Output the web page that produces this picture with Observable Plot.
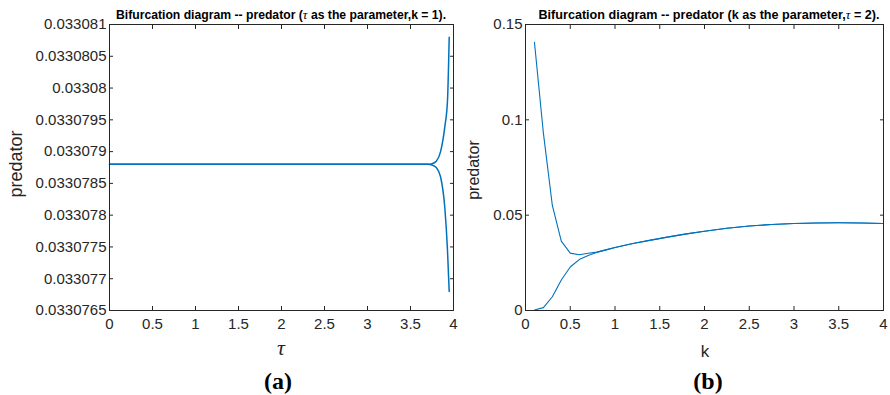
<!DOCTYPE html>
<html><head><meta charset="utf-8">
<script src="https://cdn.jsdelivr.net/npm/d3@7"></script>
<script src="https://cdn.jsdelivr.net/npm/@observablehq/plot@0.6"></script>
<style>
body{margin:0;background:#fff;}
#wrap{position:relative;width:890px;height:395px;overflow:hidden;font-family:"Liberation Sans",Arial,sans-serif;background:#fff;}
.p{position:absolute;top:0;}
.lbl{position:absolute;white-space:nowrap;transform:translate(-50%,-50%);color:#262626;line-height:1;}
.rot{transform:translate(-50%,-50%) rotate(-90deg);}
.ttl{font-weight:bold;font-size:12.2px;color:#000;}
.cap{font-family:"Liberation Serif","Times New Roman",serif;font-weight:bold;font-size:24px;color:#000;}
</style></head>
<body><div id="wrap">
<div id="pa" class="p" style="left:0"></div>
<div id="pb" class="p" style="left:460px"></div>
<div class="lbl ttl" style="left:281px;top:15px">Bifurcation diagram -- predator (<i style="font-family:'Liberation Serif',serif;font-weight:normal;font-size:13px">τ</i> as the parameter,k = 1).</div>
<div class="lbl ttl" style="left:709px;top:15px;font-size:12.6px">Bifurcation diagram -- predator (k as the parameter,<i style="font-family:'Liberation Serif',serif;font-weight:normal;font-size:13px">τ</i> = 2).</div>
<div class="lbl rot" style="left:16px;top:164px;font-size:18px">predator</div>
<div class="lbl rot" style="left:474px;top:170px;font-size:16px">predator</div>
<div class="lbl" style="left:281px;top:348px;font-size:22px;font-style:italic;font-family:'Liberation Serif',serif">τ</div>
<div class="lbl" style="left:705px;top:351px;font-size:17px">k</div>
<div class="lbl cap" style="left:278px;top:381px">(a)</div>
<div class="lbl cap" style="left:708px;top:381px">(b)</div>
</div>
<script>
// Panel (a): tau as the parameter, k = 1
const tauA   = [0, 0.5, 1, 1.5, 2, 2.5, 3, 3.5, 3.7, 3.75, 3.8, 3.85, 3.9, 3.93, 3.95];
const upperA = [0.0330788, 0.0330788, 0.0330788, 0.0330788, 0.0330788, 0.0330788, 0.0330788, 0.0330788, 0.0330788, 0.03307881, 0.03307885, 0.0330790, 0.0330794, 0.0330798, 0.0330808];
const lowerA = [0.0330788, 0.0330788, 0.0330788, 0.0330788, 0.0330788, 0.0330788, 0.0330788, 0.0330788, 0.0330788, 0.03307879, 0.03307875, 0.0330786, 0.0330781, 0.03307745, 0.0330768];
const xTicksA = [0, 0.5, 1, 1.5, 2, 2.5, 3, 3.5, 4];
const yTicksA = [0.0330765, 0.033077, 0.0330775, 0.033078, 0.0330785, 0.033079, 0.0330795, 0.03308, 0.0330805, 0.033081];

// Panel (b): k as the parameter, tau = 2
const kB     = [0.1, 0.2, 0.3, 0.4, 0.5, 0.6, 0.7, 0.8, 0.9, 1.0, 1.2, 1.4, 1.6, 1.8, 2.0, 2.25, 2.5, 2.75, 3.0, 3.25, 3.5, 3.75, 4.0];
const upperB = [0.1407, 0.093, 0.0551, 0.0364, 0.0301, 0.0292, 0.0300, 0.0306, 0.0318, 0.0330, 0.0351, 0.0369, 0.0386, 0.0402, 0.0416, 0.0431, 0.0443, 0.0451, 0.0456, 0.0459, 0.0460, 0.0459, 0.0456];
const lowerB = [0.0003, 0.0015, 0.0072, 0.0160, 0.0228, 0.0267, 0.0289, 0.0306, 0.0318, 0.0330, 0.0351, 0.0369, 0.0386, 0.0402, 0.0416, 0.0431, 0.0443, 0.0451, 0.0456, 0.0459, 0.0460, 0.0459, 0.0456];
const xTicksB = [0, 0.5, 1, 1.5, 2, 2.5, 3, 3.5, 4];
const yTicksB = [0, 0.05, 0.1, 0.15];

const LINE = "#0072BD", AX = "#262626";
const fmt = d => String(d);
const blank = () => "";

function panel({width, marginLeft, xDomain, yDomain, xTicks, yTicks, xs, up, lo, curve, sw}) {
  const U = xs.map((x, i) => ({x, y: up[i]}));
  const L = xs.map((x, i) => ({x, y: lo[i]}));
  return Plot.plot({
    width, height: 340, marginLeft, marginRight: 7, marginTop: 24, marginBottom: 30,
    style: {fontSize: "15px", fontFamily: "'Liberation Sans', Arial, sans-serif", color: AX, background: "transparent", overflow: "visible"},
    x: {domain: xDomain},
    y: {domain: yDomain},
    marks: [
      Plot.line(U, {x: "x", y: "y", stroke: LINE, strokeWidth: sw, curve}),
      Plot.line(L, {x: "x", y: "y", stroke: LINE, strokeWidth: sw, curve}),
      Plot.frame({stroke: AX, strokeWidth: 1}),
      Plot.axisX({anchor: "bottom", ticks: xTicks, tickFormat: fmt, tickSize: -4, tickPadding: 12, label: null, stroke: AX}),
      Plot.axisX({anchor: "top", ticks: xTicks, tickFormat: blank, tickSize: -4, label: null, stroke: AX}),
      Plot.axisY({anchor: "left", ticks: yTicks, tickFormat: fmt, tickSize: -4, tickPadding: 7, label: null, stroke: AX}),
      Plot.axisY({anchor: "right", ticks: yTicks, tickFormat: blank, tickSize: -4, label: null, stroke: AX})
    ]
  });
}

document.getElementById("pa").append(panel({
  width: 460, marginLeft: 109, xDomain: [0, 4], yDomain: [0.0330765, 0.033081],
  xTicks: xTicksA, yTicks: yTicksA, xs: tauA, up: upperA, lo: lowerA, curve: "monotone-x", sw: 1.5
}));
document.getElementById("pb").append(panel({
  width: 430, marginLeft: 65, xDomain: [0, 4], yDomain: [0, 0.15],
  xTicks: xTicksB, yTicks: yTicksB, xs: kB, up: upperB, lo: lowerB, curve: "linear", sw: 1.1
}));
</script>
</body></html>
